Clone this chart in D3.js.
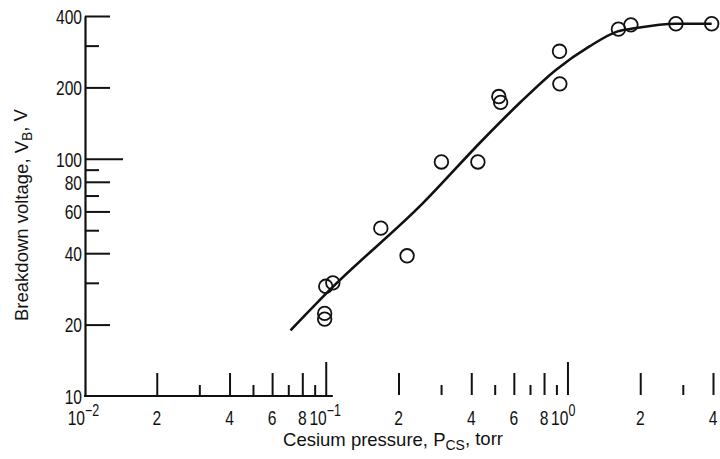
<!DOCTYPE html>
<html>
<head>
<meta charset="utf-8">
<script src="https://cdn.jsdelivr.net/npm/d3@7"></script>
<style>
  html, body { margin: 0; padding: 0; background: #fff; }
  svg { display: block; }
  .tick-label { font-family: "Liberation Sans", Arial, sans-serif; font-size: 20px; fill: #111; }
  .title { font-family: "Liberation Sans", Arial, sans-serif; font-size: 18.5px; fill: #111; }
</style>
</head>
<body>
<svg id="chart" width="720" height="459"></svg>
<script>
// Measured breakdown voltage against cesium pressure
const pressure = [0.099, 0.099, 0.1, 0.107, 0.169, 0.217, 0.301, 0.426, 0.52, 0.529, 0.927, 0.93, 1.625, 1.83, 2.81, 3.95];
const voltage  = [22.3, 21.1, 29, 30, 51, 39, 97, 97, 183, 173, 284, 207, 352, 367, 371, 371];

// Faired curve through the data
const curvePressure = [0.0715, 0.1039, 0.2524, 0.4467, 0.634, 0.898, 1.233, 1.614, 1.922, 2.81, 3.95];
const curveVoltage  = [18.9, 28.0, 65.0, 120.3, 171.8, 237.5, 297.8, 344.5, 356, 371, 371];

// Axis ticks and labels
const xTickValues  = [0.02, 0.03, 0.04, 0.05, 0.06, 0.07, 0.08, 0.09, 0.1,
                      0.2, 0.3, 0.4, 0.5, 0.6, 0.7, 0.8, 0.9, 1, 2, 3, 4];
const xLabelValues = [0.01, 0.02, 0.04, 0.06, 0.08, 0.1, 0.2, 0.4, 0.6, 0.8, 1, 2, 4];
const yTickValues  = [10, 20, 30, 40, 50, 60, 70, 80, 90, 100, 200, 300, 400];
const yLabelValues = [10, 20, 40, 60, 80, 100, 200, 400];

const svg = d3.select("#chart");
const ink = "#111";
const narrow = 0.78; // horizontal squeeze for the condensed tick numerals

const x = d3.scaleLog().domain([0.01, 4]).range([84, 713]);
const y = d3.scaleLog().domain([10, 400]).range([396, 16]);

const isDecade = v => Math.abs(Math.log10(v) - Math.round(Math.log10(v))) < 1e-9;
const mantissa = v => Math.round(v / Math.pow(10, Math.floor(Math.log10(v) + 1e-9)));
const exponentText = v => {
  const e = Math.round(Math.log10(v));
  return e < 0 ? "\u2212" + Math.abs(e) : String(e);
};

// ---- Y axis ----
const yAxis = d3.axisLeft(y)
  .tickValues(yTickValues)
  .tickSizeOuter(0)
  .tickSizeInner(0)
  .tickPadding(4)
  .tickFormat(d => yLabelValues.includes(d) ? String(d) : "");

const gy = svg.append("g").attr("transform", "translate(85,0)").call(yAxis);
gy.select(".domain").attr("stroke", ink).attr("stroke-width", 2.2);
gy.selectAll(".tick line")
  .attr("stroke", ink)
  .attr("stroke-width", 2)
  .attr("x2", d => d === 10 ? 0 : d === 100 ? 38 : yLabelValues.includes(d) ? 25 : 14);
gy.selectAll(".tick text")
  .attr("class", "tick-label")
  .attr("font-family", null)
  .attr("font-size", null)
  .attr("x", 0)
  .attr("dy", "0.36em")
  .attr("transform", `translate(-3,0) scale(${narrow},1)`);

// ---- X axis ----
const xAxis = d3.axisBottom(x)
  .tickValues(xTickValues)
  .tickSizeOuter(0)
  .tickSizeInner(0)
  .tickFormat("");

const gx = svg.append("g").attr("transform", "translate(0,396)").call(xAxis);
gx.select(".domain").remove();
gx.selectAll(".tick line")
  .attr("stroke", ink)
  .attr("stroke-width", 2)
  .attr("y1", -1)
  .attr("y2", d => isDecade(d) ? -34 : (mantissa(d) % 2 === 0 ? -23 : -11));

// Baseline spans the first decade only
gx.append("line")
  .attr("x1", x(0.01)).attr("x2", x(0.107))
  .attr("y1", 0).attr("y2", 0)
  .attr("stroke", ink).attr("stroke-width", 2.2);

// X tick labels; decades are written as powers of ten with the "10" ending at the tick
const labelY = 29;
gx.selectAll(".xlabel")
  .data(xLabelValues)
  .join("text")
  .attr("class", "tick-label xlabel")
  .each(function(d) {
    const t = d3.select(this);
    if (isDecade(d)) {
      t.attr("text-anchor", "start");
      const base = t.append("tspan").text("10");
      t.append("tspan")
        .attr("dy", "-9")
        .attr("font-size", "16px")
        .text(exponentText(d));
      const w = base.node().getComputedTextLength() * narrow;
      t.attr("transform", `translate(${x(d) + 1 - w},${labelY}) scale(${narrow},1)`);
    } else {
      t.attr("text-anchor", "middle")
        .attr("transform", `translate(${x(d)},${labelY}) scale(${narrow},1)`)
        .text(String(mantissa(d)));
    }
  });

// ---- Titles ----
const xt = svg.append("text")
  .attr("class", "title")
  .attr("x", 393).attr("y", 446)
  .attr("text-anchor", "middle");
xt.append("tspan").text("Cesium pressure, P");
xt.append("tspan").attr("dy", "0.3em").attr("font-size", "14px").text("CS");
xt.append("tspan").attr("dy", "-0.3em").text(", torr");

const yt = svg.append("text")
  .attr("class", "title")
  .attr("transform", "translate(28,215) rotate(-90)")
  .attr("text-anchor", "middle");
yt.append("tspan").text("Breakdown voltage, V");
yt.append("tspan").attr("dy", "0.3em").attr("font-size", "14px").text("B");
yt.append("tspan").attr("dy", "-0.3em").text(", V");

// ---- Faired curve ----
const curveData = curvePressure.map((p, i) => ({ p, v: curveVoltage[i] }));
svg.append("path")
  .datum(curveData)
  .attr("fill", "none")
  .attr("stroke", ink)
  .attr("stroke-width", 2.6)
  .attr("d", d3.line().x(d => x(d.p)).y(d => y(d.v)).curve(d3.curveMonotoneX));

// ---- Data points ----
const pts = pressure.map((p, i) => ({ p, v: voltage[i] }));
svg.append("g")
  .selectAll("circle")
  .data(pts)
  .join("circle")
  .attr("cx", d => x(d.p))
  .attr("cy", d => y(d.v))
  .attr("r", 6.8)
  .attr("fill", "none")
  .attr("stroke", ink)
  .attr("stroke-width", 1.8);
</script>
</body>
</html>
